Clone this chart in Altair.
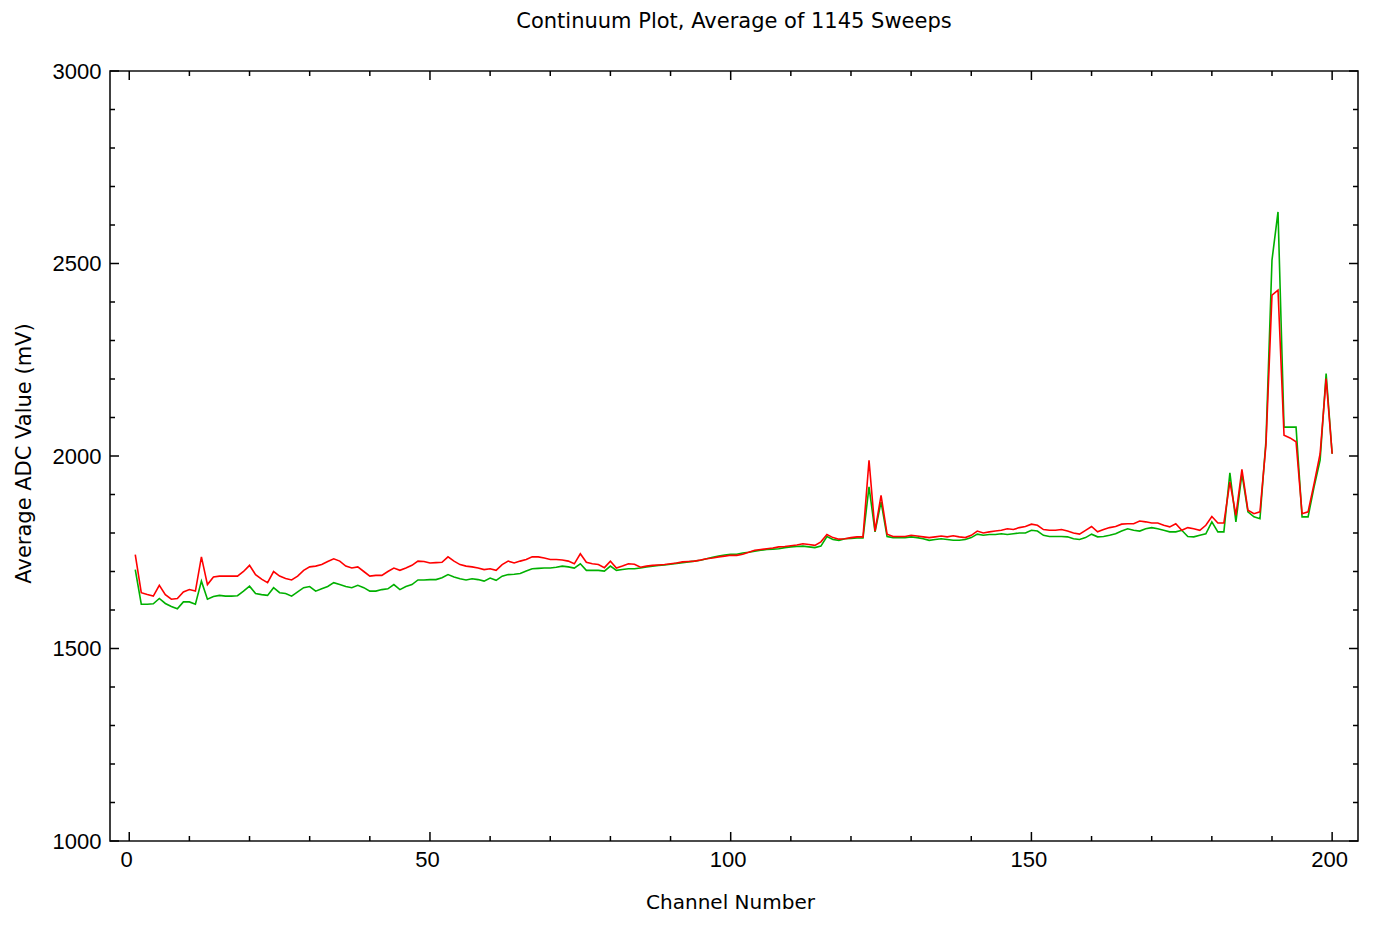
import altair as alt
import pandas as pd

channels = list(range(1, 201))

red_mv = [
    1744, 1645, 1640, 1636, 1664, 1640, 1628, 1630, 1647, 1653,
    1649, 1738, 1666, 1686, 1688, 1688, 1688, 1688, 1700, 1716,
    1692, 1680, 1671, 1700, 1688, 1682, 1678, 1688, 1703, 1712,
    1714, 1718, 1726, 1733, 1727, 1714, 1709, 1712, 1700, 1688,
    1690, 1690, 1700, 1709, 1703, 1709, 1716, 1727, 1726, 1722,
    1723, 1724, 1738, 1727, 1718, 1714, 1712, 1709, 1705, 1707,
    1703, 1718, 1727, 1722, 1727, 1731, 1738, 1738, 1735, 1731,
    1731, 1730, 1727, 1720, 1746, 1724, 1720, 1718, 1710, 1727,
    1709, 1714, 1720, 1719, 1711, 1714, 1716, 1717, 1718, 1720,
    1722, 1725, 1726, 1727, 1730, 1733, 1735, 1738, 1740, 1742,
    1742, 1745, 1750, 1755, 1757, 1759, 1761, 1764, 1765, 1767,
    1769, 1772, 1770, 1768, 1777, 1796, 1788, 1784, 1785, 1788,
    1790, 1790, 1989, 1805, 1898, 1797, 1791, 1791, 1791, 1794,
    1792, 1790, 1788, 1790, 1792, 1790, 1793, 1790, 1788, 1794,
    1805, 1800, 1803, 1805, 1807, 1811, 1809, 1814, 1817, 1823,
    1820, 1809, 1807, 1807, 1809, 1805, 1800, 1797, 1807, 1817,
    1803, 1809, 1814, 1817, 1823, 1824, 1824, 1831, 1829, 1826,
    1826, 1820, 1816, 1824, 1807, 1814, 1811, 1807, 1820, 1843,
    1826, 1826, 1933, 1846, 1965, 1859, 1850, 1855, 2030, 2418,
    2431, 2054, 2047, 2037, 1850, 1855, 1928, 2006, 2201, 2006,
]

green_mv = [
    1705, 1615, 1615, 1616, 1630, 1617, 1609, 1603, 1621, 1621,
    1615, 1675, 1628, 1635, 1638, 1636, 1636, 1637, 1649, 1662,
    1643, 1640, 1638, 1658, 1645, 1643, 1636, 1647, 1658, 1661,
    1649, 1655, 1661, 1671, 1666, 1661, 1658, 1664, 1658, 1649,
    1649, 1653, 1655, 1666, 1653, 1661, 1666, 1678, 1678, 1679,
    1679, 1684, 1692, 1686, 1681, 1678, 1681, 1679, 1675, 1683,
    1677, 1688, 1692, 1693, 1695, 1701, 1707, 1708, 1709, 1709,
    1711, 1714, 1712, 1709, 1720, 1703, 1703, 1703, 1701, 1714,
    1703, 1705, 1707, 1707, 1709, 1712, 1714, 1716, 1717, 1719,
    1721, 1723, 1725, 1727, 1729, 1733, 1737, 1740, 1743, 1745,
    1745, 1748, 1750, 1753, 1755, 1757, 1758, 1759, 1762, 1764,
    1765, 1766, 1764, 1762, 1766, 1791, 1783, 1781, 1785, 1786,
    1787, 1787, 1920, 1803, 1881, 1791, 1788, 1788, 1788, 1790,
    1788, 1785, 1781, 1783, 1785, 1783, 1781, 1781, 1783, 1788,
    1797, 1794, 1796, 1796, 1798, 1796, 1798, 1800, 1800, 1807,
    1805, 1794, 1791, 1791, 1791, 1790, 1785, 1783, 1788, 1797,
    1790, 1791, 1794, 1798, 1805, 1811, 1807, 1805, 1811, 1814,
    1811, 1807, 1803, 1803, 1807, 1791, 1790, 1794, 1798, 1829,
    1803, 1803, 1956, 1829, 1954, 1855, 1842, 1837, 2040, 2509,
    2634, 2075, 2075, 2075, 1842, 1842, 1920, 1989, 2214, 2006,
]

x_major_ticks = [0, 50, 100, 150, 200]
x_minor_ticks = [10, 20, 30, 40, 60, 70, 80, 90, 110, 120, 130, 140, 160, 170, 180, 190]
y_major_ticks = [1000, 1500, 2000, 2500, 3000]
y_minor_ticks = [1100, 1200, 1300, 1400, 1600, 1700, 1800, 1900,
                 2100, 2200, 2300, 2400, 2600, 2700, 2800, 2900]

W, H = 1248, 770
LABEL_FONT = "Liberation Sans"
TITLE_FONT = "DejaVu Sans"

df = pd.DataFrame({"channel": channels, "red": red_mv, "green": green_mv})

xscale = alt.Scale(domain=[-3.2, 204.3], nice=False, zero=False)
yscale = alt.Scale(domain=[1000, 3000], nice=False, zero=False)

x_axis = alt.Axis(
    values=x_major_ticks, format="d", ticks=False, tickSize=0, domain=False, grid=False,
    labelFont=LABEL_FONT, labelFontSize=22, labelColor="black", labelPadding=8,
    labelOffset=-3, title="Channel Number", titleFont=TITLE_FONT, titleFontSize=20,
    titleFontWeight="normal", titleColor="black", titleX=620, titleY=61,
    titleBaseline="middle", titleAnchor="middle",
)
y_axis = alt.Axis(
    values=y_major_ticks, format="d", ticks=False, tickSize=0, domain=False, grid=False,
    labelFont=LABEL_FONT, labelFontSize=22, labelColor="black", labelPadding=9,
    title="Average ADC Value (mV)", titleFont=TITLE_FONT, titleFontSize=21,
    titleFontWeight="normal", titleColor="black", titleX=-86, titleY=382,
    titleBaseline="middle", titleAngle=-90,
)

base = alt.Chart(df)
green_line = base.mark_line(color="#00b000", strokeWidth=1.6).encode(
    x=alt.X("channel:Q", scale=xscale, axis=x_axis),
    y=alt.Y("green:Q", scale=yscale, axis=y_axis),
)
red_line = base.mark_line(color="#ff0000", strokeWidth=1.6).encode(
    x=alt.X("channel:Q", scale=xscale, axis=x_axis),
    y=alt.Y("red:Q", scale=yscale, axis=y_axis),
)

def xticks(vals, length):
    d = alt.Chart(pd.DataFrame({"t": vals}))
    bottom = d.mark_rule(color="black", strokeWidth=1.5).encode(
        x=alt.X("t:Q", scale=xscale, axis=x_axis), y=alt.value(H), y2=alt.value(H - length))
    top = d.mark_rule(color="black", strokeWidth=1.5).encode(
        x=alt.X("t:Q", scale=xscale, axis=x_axis), y=alt.value(0), y2=alt.value(length))
    return [bottom, top]

def yticks(vals, length):
    d = alt.Chart(pd.DataFrame({"t": vals}))
    left = d.mark_rule(color="black", strokeWidth=1.5).encode(
        y=alt.Y("t:Q", scale=yscale, axis=y_axis), x=alt.value(0), x2=alt.value(length))
    right = d.mark_rule(color="black", strokeWidth=1.5).encode(
        y=alt.Y("t:Q", scale=yscale, axis=y_axis), x=alt.value(W), x2=alt.value(W - length))
    return [left, right]

layers = [green_line, red_line]
layers += xticks(x_major_ticks, 9) + xticks(x_minor_ticks, 5)
layers += yticks(y_major_ticks, 9) + yticks(y_minor_ticks, 5)

chart = alt.layer(*layers).properties(
    width=W,
    height=H,
    title=alt.TitleParams(
        text="Continuum Plot, Average of 1145 Sweeps",
        font=TITLE_FONT, fontSize=21, fontWeight="normal", color="black",
        anchor="middle", offset=28,
    ),
    autosize=alt.AutoSizeParams(type="none"),
    padding={"left": 102, "top": 63, "right": 20, "bottom": 75},
    background="white",
).configure_view(stroke="#111111", strokeWidth=1.6)

chart.save("out.html", embed_options={"renderer": "svg", "actions": False})
